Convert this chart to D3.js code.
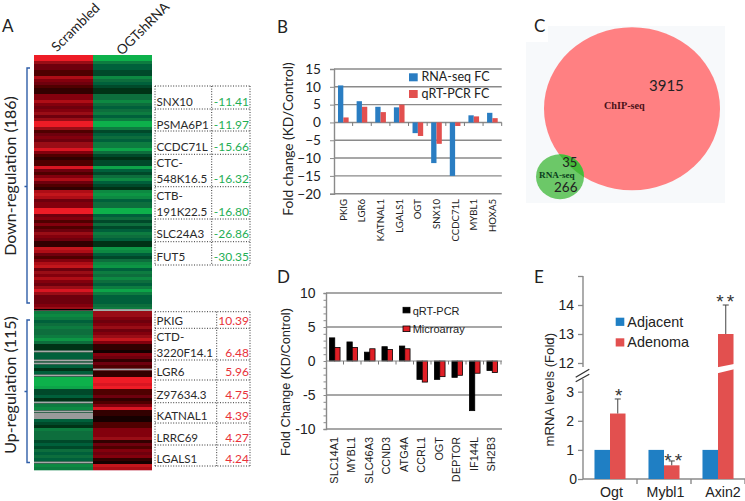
<!DOCTYPE html>
<html><head><meta charset="utf-8">
<script src="https://cdn.jsdelivr.net/npm/d3@7"></script>
<style>html,body{margin:0;padding:0;background:#fff}svg{display:block}</style>
</head><body><svg id="c" width="745" height="501"></svg>
<script>
// ---------- Panel A data: estimated colour strength of each heat-map band (-1 thin grey line, -2 full grey band)
const downStrength = [9,9,5,3,3,2,2,6,4,3,2,1,1,4,4,6,4,3,4,5,3,5,9,9,5,2,3,4,3,
  5,5,8,4,2,1,2,2,8,3,2,4,6,3,2,1,6,7,6,3,4,4,9,9,3,4,2,4,2,3,
  5,4,3,1,1,7,6,3,2,4,6,7,3,5,4,6,4,3,5,8,5,3,3,3,4,5];
const upLeft = [5,6,5,3,4,5,4,4,5,7,4,1,1,-1,3,3,-1,-1,3,1,3,-1,9,9,9,8,2,2,3,
  1,-1,5,6,-1,-2,-2,3,2,1,5,4,4,4,2,3,2,4,3,4,3,-1,6,5];
const upRight = [5,5,4,3,4,5,3,4,5,7,4,1,1,0,4,3,1,3,2,-1,1,1,9,9,8,9,2,2,3,
  1,2,4,8,1,1,0,0,2,2,4,4,4,5,1,3,2,4,3,4,1,0,7,6];
const heatColumns = ["Scrambled","OGTshRNA"];
const downGenes = ["SNX10","PSMA6P1","CCDC71L","CTC-|548K16.5","CTB-|191K22.5","SLC24A3","FUT5"];
const downFC = ["-11.41","-11.97","-15.66","-16.32","-16.80","-26.86","-30.35"];
const upGenes = ["PKIG","CTD-|3220F14.1","LGR6","Z97634.3","KATNAL1","LRRC69","LGALS1"];
const upFC = ["10.39","6.48","5.96","4.75","4.39","4.27","4.24"];
// Panel B
const bGenes = ["PKIG","LGR6","KATNAL1","LGALS1","OGT","SNX10","CCDC71L","MYBL1","HOXA5"];
const bRna = [10.39,5.96,4.39,4.24,-3,-11.41,-15,2,2.7];
const bPcr = [1.4,4.4,2.9,5,-3.8,-6,-1,1.7,1.2];
// Panel C
const vennCounts = ["3915","35","266"];
const vennNames = ["ChIP-seq","RNA-seq"];
// Panel D
const dGenes = ["SLC14A1","MYBL1","SLC46A3","CCND3","ATG4A","CCRL1","OGT","DEPTOR","IF144L","SH2B3"];
const dPcr = [3.4,2.8,1.3,2.1,2.2,-2.7,-2.7,-2.4,-7.3,-1.4];
const dArray = [2,2,1.8,1.7,1.8,-3.1,-2.3,-2.1,-1.8,-1.7];
// Panel E
const eGenes = ["Ogt","Mybl1","Axin2"];
const eAdjacent = [1,1,1];
const eAdenoma = [2.25,0.47,13];
const eErrorTop = [2.75,0.62,14];
const eStars = ["*","**","**"];

const svg = d3.select("#c");
const LATO = "Lato, sans-serif", ARIAL = "'Liberation Sans', sans-serif", SERIF = "'Liberation Serif', serif";
function txt(x,y,s,size,o={}){
  const t = svg.append("text").attr("x",x).attr("y",y).text(s)
    .attr("font-family",o.font||LATO).attr("font-size",size).attr("fill",o.fill||"#222")
    .attr("text-anchor",o.anchor||"start");
  if(o.weight) t.attr("font-weight",o.weight);
  if(o.rot!==undefined) t.attr("transform",`rotate(${o.rot} ${x} ${y})`);
  if(o.ls) t.attr("letter-spacing",o.ls);
  return t;
}
[["A",2,32],["B",277,33],["D",277,283],["E",534,283]].forEach(d=>txt(d[1],d[2],d[0],17));

// ---------- Panel A
const defs = svg.append("defs");
defs.append("filter").attr("id","soft").attr("x","0").attr("width","1").attr("y","-0.02").attr("height","1.04")
  .append("feGaussianBlur").attr("stdDeviation","0 0.5");
const redC = d3.scaleLinear().domain([0,3,9]).range(["#120000","#6e0008","#ee1c25"]);
const greenC = d3.scaleLinear().domain([0,3,9]).range(["#001a08","#06603a","#0cb14b"]);
const colX = d3.scaleBand().domain(heatColumns).range([34,152]);
const heat = svg.append("g").attr("filter","url(#soft)");
function strips(vals,y0,y1,col,scale){
  const y = d3.scaleBand().domain(d3.range(vals.length)).range([y0,y1]);
  heat.selectAll(null).data(vals).enter().append("rect")
    .attr("x",colX(col)).attr("width",colX.bandwidth())
    .attr("y",(d,i)=>y(i)).attr("height",y.bandwidth()+0.3)
    .attr("fill",d=>d===-2?"#9a9a9a":scale(d<0?2:d));
  heat.selectAll(null).data(vals.map((d,i)=>[d,i]).filter(p=>p[0]===-1)).enter().append("rect")
    .attr("x",colX(col)).attr("width",colX.bandwidth())
    .attr("y",p=>y(p[1])+0.6).attr("height",1.7).attr("fill","#a8a8a8");
}
strips(downStrength,55,310,heatColumns[0],redC);
strips(downStrength,55,310,heatColumns[1],greenC);
strips(upLeft,311,470,heatColumns[0],greenC);
strips(upRight,311,470,heatColumns[1],redC);
svg.append("rect").attr("x",34).attr("width",59).attr("y",309).attr("height",1.6).attr("fill","#000");
svg.append("rect").attr("x",93).attr("width",59).attr("y",309).attr("height",1.6).attr("fill","#999");
txt(57,52.5,heatColumns[0],13.5,{rot:-45});
txt(122,56,heatColumns[1],13.5,{rot:-45});
function bracket(top,bot,mid){
  svg.append("path").attr("fill","none").attr("stroke","#2f5ea8").attr("stroke-width",1.4)
    .attr("d",`M30,${top}H27V${bot}H30M27,${mid}H24.5`);
}
bracket(68,303,186.5); bracket(320,462.5,391.5);
txt(16,176,"Down-regulation (186)",16,{rot:-90,anchor:"middle"});
txt(16,385,"Up-regulation (115)",16,{rot:-90,anchor:"middle"});
function table(lines,mid,baselines,genes,fc,color){
  const g = svg.append("g").attr("fill","none").attr("stroke","#333").attr("stroke-width",1).attr("stroke-dasharray","1 1.6");
  lines.forEach(y=>g.append("line").attr("x1",155).attr("x2",250).attr("y1",y).attr("y2",y));
  [155,mid,250].forEach(x=>g.append("line").attr("x1",x).attr("x2",x).attr("y1",lines[0]).attr("y2",lines[lines.length-1]));
  genes.forEach((s,i)=>{
    const parts = s.split("|"), b = baselines[i];
    parts.forEach((p,j)=>txt(156.5,b-(parts.length-1-j)*15.6,p,11.6,{fill:"#2a2a2a"}));
    txt(249,b,fc[i],12,{fill:color,anchor:"end"});
  });
}
table([86,109,131,154.3,186.7,219,241.7,265],211.7,[105.7,128.7,151,183,216,238,261],downGenes,downFC,"#1fae55");
table([311.7,328.3,360,380,402.7,423,445,466],216.7,[325,357,376,399.3,420,441.7,462.7],upGenes,upFC,"#e8323a");

function greyAxis(g,c="#8a8a8a"){ g.selectAll("path,line").attr("stroke",c); }

// ---------- Panel B
{
  const y = d3.scaleLinear().domain([-20,15]).range([193.7,69]);
  const x = d3.scaleBand().domain(bGenes).range([334,501.7]);
  const sub = d3.scaleBand().domain([0,1]).range([0,x.bandwidth()]).paddingOuter(0.75);
  const ticks = d3.range(-20,16,5);
  svg.append("g").selectAll("line").data(ticks).enter().append("line")
    .attr("x1",334).attr("x2",501.7).attr("y1",d=>y(d)).attr("y2",d=>y(d))
    .attr("stroke","#8a8a8a").attr("stroke-width",1.4);
  const ax = svg.append("g").attr("transform","translate(334,0)")
    .call(d3.axisLeft(y).tickValues(ticks).tickSize(4).tickPadding(9));
  greyAxis(ax); ax.select(".domain").attr("stroke-width",1.4);
  ax.selectAll("text").attr("font-family",LATO).attr("font-size",13.6).attr("fill","#222");
  [[bRna,0,"#2a7dc2"],[bPcr,1,"#e2504f"]].forEach(([vals,k,c])=>{
    svg.append("g").selectAll("rect").data(vals).enter().append("rect")
      .attr("x",(d,i)=>x(bGenes[i])+sub(k)).attr("width",sub.bandwidth())
      .attr("y",d=>y(Math.max(d,0))).attr("height",d=>Math.abs(y(d)-y(0))).attr("fill",c);
  });
  svg.append("g").attr("transform",`translate(0,${y(0)})`).selectAll("line")
    .data(d3.range(1,10)).enter().append("line")
    .attr("x1",i=>334+i*x.step()).attr("x2",i=>334+i*x.step()).attr("y1",0).attr("y2",3.5)
    .attr("stroke","#777");
  bGenes.forEach(g=>txt(x(g)+x.bandwidth()/2+3.5,199,g,9.6,{rot:-90,anchor:"end",fill:"#222"}));
  txt(292.5,139,"Fold change (KD/Control)",13.7,{rot:-90,anchor:"middle"});
  [["RNA-seq FC","#2a7dc2",73.3,81],["qRT-PCR FC","#e2504f",90,97.7]].forEach(d=>{
    svg.append("rect").attr("x",409).attr("y",d[2]).attr("width",8.7).attr("height",8).attr("fill",d[1]);
    txt(421.5,d[3],d[0],12.5);
  });
}

// ---------- Panel C
{
  svg.append("rect").attr("x",526).attr("y",26).attr("width",199).attr("height",177).attr("fill","#f7f9fb");
  svg.append("rect").attr("x",526).attr("y",26).attr("width",22).attr("height",16).attr("fill","#fff");
  txt(534,32,"C",17);
  const big = {cx:632,cy:108.7,rx:88,ry:81.5}, small = {cx:560,cy:176.7,rx:24,ry:22.5};
  const el = (o,f)=>svg.append("ellipse").attr("cx",o.cx).attr("cy",o.cy).attr("rx",o.rx).attr("ry",o.ry).attr("fill",f);
  defs.append("clipPath").attr("id","bigClip").append("ellipse")
    .attr("cx",big.cx).attr("cy",big.cy).attr("rx",big.rx).attr("ry",big.ry);
  el(big,"#ff8082"); el(small,"#6cc868");
  el(small,"#46ba38").attr("clip-path","url(#bigClip)");
  txt(649,91,vennCounts[0],15);
  txt(604,109.3,vennNames[0],10.2,{font:SERIF,weight:"bold",fill:"#4a1018"});
  txt(562.3,166.7,vennCounts[1],13);
  txt(539,177.7,vennNames[1],9.2,{font:SERIF,weight:"bold",fill:"#0a3d1c"});
  txt(554,192,vennCounts[2],13.5);
}

// ---------- Panel D
{
  const y = d3.scaleLinear().domain([-10,10]).range([429,293]);
  const x = d3.scaleBand().domain(dGenes).range([326,501]);
  const sub = d3.scaleBand().domain([0,1]).range([0,x.bandwidth()]).paddingOuter(0.65);
  const major = d3.range(-10,11,5);
  svg.append("g").selectAll("line").data(major.filter(d=>d!==0)).enter().append("line")
    .attr("x1",326).attr("x2",502).attr("y1",d=>y(d)).attr("y2",d=>y(d))
    .attr("stroke","#8a8a8a").attr("stroke-width",1.4);
  const ax = svg.append("g").attr("transform","translate(326,0)")
    .call(d3.axisLeft(y).tickValues(d3.range(-10,11)).tickSize(2.5).tickPadding(8)
      .tickFormat(d=>d%5===0?d:""));
  greyAxis(ax); ax.select(".domain").attr("stroke-width",1.4);
  ax.selectAll("text").attr("font-family",ARIAL).attr("font-size",14).attr("fill","#222");
  [[dPcr,0,"#000"],[dArray,1,"#e01f26"]].forEach(([vals,k,c])=>{
    svg.append("g").selectAll("rect").data(vals).enter().append("rect")
      .attr("x",(d,i)=>x(dGenes[i])+sub(k)).attr("width",sub.bandwidth())
      .attr("y",d=>y(Math.max(d,0))).attr("height",d=>Math.abs(y(d)-y(0))).attr("fill",c)
      .attr("stroke","#000").attr("stroke-width",0.8);
  });
  svg.append("line").attr("x1",326).attr("x2",502).attr("y1",y(0)).attr("y2",y(0)).attr("stroke","#8a8a8a").attr("stroke-width",1.2);
  svg.append("g").attr("transform",`translate(0,${y(0)})`).selectAll("line")
    .data(d3.range(1,11)).enter().append("line")
    .attr("x1",i=>326+i*x.step()).attr("x2",i=>326+i*x.step()).attr("y1",0).attr("y2",3.5)
    .attr("stroke","#777");
  dGenes.forEach(g=>txt(x(g)+x.bandwidth()/2+3,437,g,10.9,{font:ARIAL,rot:-90,anchor:"end"}));
  txt(290,382,"Fold Change (KD/Control)",12.8,{font:ARIAL,rot:-90,anchor:"middle"});
  [["qRT-PCR","#000",307.3,315],["Microarray","#e01f26",326,333.3]].forEach(d=>{
    svg.append("rect").attr("x",403).attr("y",d[2]).attr("width",7).attr("height",5.6).attr("fill",d[1]).attr("stroke","#000").attr("stroke-width",.8);
    txt(412.7,d[3],d[0],11,{font:ARIAL});
  });
}

// ---------- Panel E
{
  const y = d3.scaleLinear().domain([0,3,12,15]).range([479,391.7,363,276]);
  const x = d3.scaleBand().domain(eGenes).range([583,745]);
  const sub = d3.scaleBand().domain([0,1]).range([0,x.bandwidth()]).paddingOuter(0.74);
  const ax = svg.append("g").attr("transform","translate(583,0)")
    .call(d3.axisLeft(y).tickValues([0,1,2,3,12,13,14,15]).tickSize(5).tickPadding(4)
      .tickFormat(d=>(d===15||d===0)?"":String(d)));
  greyAxis(ax); ax.select(".domain").remove();
  ax.selectAll("line").attr("stroke-width",1.3);
  ax.selectAll("text").attr("font-family",ARIAL).attr("font-size",14).attr("fill","#222");
  txt(577,y(0)+5,"0",14,{font:ARIAL,anchor:"end"});
  const spine = svg.append("g").attr("stroke","#8a8a8a").attr("stroke-width",1.4).attr("fill","none");
  spine.append("path").attr("d",`M583,276V367M583,379V479H745`);
  x.domain().forEach((g,i)=>spine.append("line").attr("x1",x(g)+x.step()).attr("x2",x(g)+x.step()).attr("y1",479).attr("y2",484));
  spine.append("path").attr("stroke","#333").attr("stroke-width",1.3).attr("d","M575.7,377.3L589.3,369.3M575.7,381.7L589.3,374.3");
  [[eAdjacent,0,"#1f7fc4"],[eAdenoma,1,"#e2504f"]].forEach(([vals,k,c])=>{
    svg.append("g").selectAll("rect").data(vals).enter().append("rect")
      .attr("x",(d,i)=>x(eGenes[i])+sub(k)).attr("width",sub.bandwidth())
      .attr("y",d=>y(d)).attr("height",d=>y(0)-y(d)).attr("fill",c);
  });
  const starGap = [8,5,8], starShift = [1,3,1], labelShift = [1.5,1.5,5];
  eGenes.forEach((g,i)=>{
    const cx = x(g)+sub(1)+sub.bandwidth()/2;
    svg.append("path").attr("fill","none").attr("stroke","#444").attr("stroke-width",1)
      .attr("d",`M${cx},${y(eAdenoma[i])}V${y(eErrorTop[i])}M${cx-3},${y(eErrorTop[i])}H${cx+3}`);
    txt(cx+starShift[i],y(eErrorTop[i])-starGap[i]+11,eStars[i],19,{font:ARIAL,anchor:"middle",fill:"#333",ls:eStars[i].length>1?"3":null});
    txt(x(g)+x.bandwidth()/2+labelShift[i],497,g,14.2,{font:ARIAL,anchor:"middle"});
  });
  const bx = x(eGenes[2])+sub(1), bw = sub.bandwidth();
  svg.append("path").attr("fill","#fff").attr("d",`M${bx-0.5},367.3L${bx+bw+0.5},364L${bx+bw+0.5},369.3L${bx-0.5},373.3Z`);
  txt(554,389.7,"mRNA levels (Fold)",13.2,{font:ARIAL,rot:-90,anchor:"middle"});
  [["Adjacent","#1f7fc4",317.7,326.7],["Adenoma","#e2504f",338.3,347]].forEach(d=>{
    svg.append("rect").attr("x",615.7).attr("y",d[2]).attr("width",8.6).attr("height",8.2).attr("fill",d[1]);
    txt(627.3,d[3],d[0],14.4,{font:ARIAL});
  });
}
</script></body></html>
